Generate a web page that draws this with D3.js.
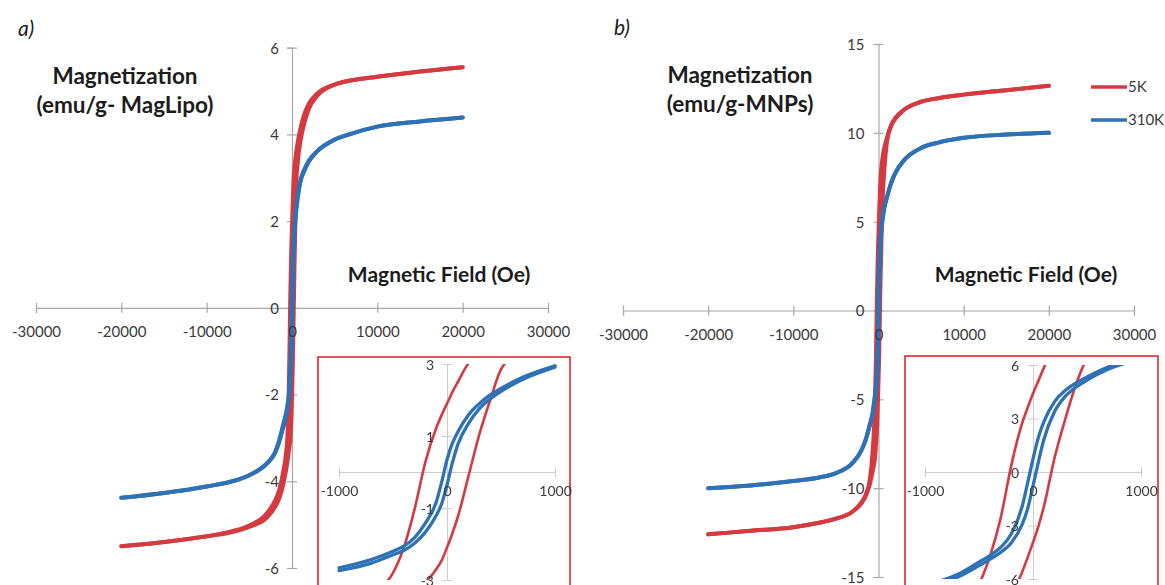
<!DOCTYPE html>
<html><head><meta charset="utf-8">
<script src="https://cdn.jsdelivr.net/npm/d3@7"></script>
<style>
body{margin:0;background:#fff}
svg{display:block}
text{font-family:Lato,"Open Sans",sans-serif}
</style>
</head><body>
<svg id="c" width="1165" height="585"></svg>
<script>
// ---------- DATA ----------
const seriesNames = ["5K", "310K"];
// applied field grid (Oe), common to every branch
const fieldOe = [-20000,-15000,-10000,-7000,-5000,-3000,-2000,-1500,-1000,-700,-500,-400,-300,-200,-100,-50,0,50,100,200,300,400,500,700,1000,1500,2000,3000,5000,7000,10000,15000,20000];

// a) MagLipo (emu/g)  — desc = field sweeping down, asc = field sweeping up
const magLipo5K_desc   = [-5.5,-5.4,-5.27,-5.15,-5.02,-4.75,-4.45,-4.2,-3.75,-3.35,-2.8,-2.1,-1.03,0.28,1.22,1.58,1.9,2.22,2.5,3.02,3.25,3.45,3.6,3.85,4.15,4.5,4.72,4.95,5.15,5.25,5.33,5.45,5.55];
const magLipo5K_asc    = [-5.5,-5.4,-5.27,-5.17,-5.05,-4.85,-4.6,-4.4,-4.05,-3.75,-3.5,-3.35,-3.2,-3.05,-2.7,-2.46,-2.1,-1.7,-1.25,-0.1,1.05,2.0,2.85,3.4,3.85,4.3,4.6,4.9,5.15,5.25,5.33,5.45,5.55];
const magLipo310K_desc = [-4.38,-4.27,-4.12,-4.0,-3.86,-3.6,-3.33,-3.05,-2.66,-2.43,-2.2,-2.06,-1.82,-1.42,-0.84,-0.29,0.34,0.8,1.11,1.59,1.9,2.14,2.32,2.63,2.95,3.22,3.4,3.62,3.88,4.02,4.18,4.3,4.39];
const magLipo310K_asc  = [-4.38,-4.27,-4.12,-4.0,-3.86,-3.6,-3.36,-3.1,-2.74,-2.53,-2.3,-2.18,-1.98,-1.67,-1.21,-0.89,-0.36,0.26,0.76,1.35,1.76,2.03,2.24,2.57,2.91,3.18,3.38,3.62,3.88,4.02,4.18,4.3,4.39];

// b) MNPs (emu/g)
const mnp5K_desc   = [-12.6,-12.4,-12.2,-11.95,-11.72,-11.3,-10.8,-10.35,-9.45,-8.0,-6.3,-4.76,-2.6,0.4,2.75,3.6,4.4,5.11,5.84,7.0,7.8,8.3,8.7,9.2,9.75,10.45,10.85,11.3,11.75,11.95,12.15,12.4,12.65];
const mnp5K_asc    = [-12.6,-12.4,-12.2,-11.95,-11.72,-11.3,-10.85,-10.45,-9.75,-9.1,-8.6,-8.25,-7.6,-6.9,-5.6,-4.8,-3.95,-3.05,-1.95,0.8,3.0,4.95,6.4,8.0,9.5,10.4,10.8,11.3,11.75,11.95,12.15,12.4,12.65];
const mnp310K_desc = [-10.0,-9.85,-9.6,-9.4,-9.15,-8.55,-7.85,-7.25,-6.35,-5.75,-5.05,-4.69,-4.23,-3.46,-1.93,-0.62,0.73,1.94,2.81,3.95,4.58,5.0,5.33,5.9,6.42,7.22,7.77,8.47,9.15,9.45,9.72,9.9,10.0];
const mnp310K_asc  = [-10.0,-9.85,-9.6,-9.4,-9.15,-8.57,-7.87,-7.28,-6.45,-5.9,-5.25,-4.9,-4.51,-3.97,-2.94,-2.07,-0.78,0.57,1.81,3.39,4.25,4.77,5.15,5.77,6.35,7.18,7.75,8.45,9.15,9.45,9.72,9.9,10.0];

// tick labels
const mainXTicks = [-30000,-20000,-10000,0,10000,20000,30000];
const aYTicks = [-6,-4,-2,0,2,4,6];
const bYTicks = [-15,-10,-5,0,5,10,15];
const insetXTicks = [-1000,0,1000];
const insetAYTicks = [-3,-1,1,3];
const insetBYTicks = [-6,-3,0,3,6];

// ---------- DRAWING ----------
const svg = d3.select("#c");
const RED = "#d43a40", BLUE = "#2e72b5", AXIS = "#a8a8a8", TICKTXT = "#3a3a3a", TITLE = "#1c1c1c";
const fmt = d => String(d);
const colors = [RED, BLUE];

function toPts(arr){ return fieldOe.map((h,i)=>({h:h, m:arr[i]})); }

function drawAxes(g, x, y, xt, yt, opts, labelsOnly){
  const xa = d3.axisBottom(x).tickValues(xt).tickFormat(fmt).tickSizeOuter(0).tickSize(labelsOnly?0:opts.tick);
  const ya = d3.axisLeft(y).tickValues(yt).tickFormat(fmt).tickSizeOuter(0).tickSize(labelsOnly?0:opts.tick);
  const gx = g.append("g").attr("transform", `translate(0,${y(0)})`).call(xa);
  const gy = g.append("g").attr("transform", `translate(${x(0)},0)`).call(ya);
  [gx, gy].forEach(a => {
    a.select(".domain").attr("stroke", AXIS).attr("stroke-width", opts.axisW);
    a.selectAll(".tick line").attr("stroke", AXIS).attr("stroke-width", opts.axisW);
    a.selectAll(".tick text").attr("fill", TICKTXT).style("font-size", opts.font + "px");
  });
  gx.selectAll(".tick line").attr("y1", -opts.tick).attr("y2", opts.tick);
  gy.selectAll(".tick line").attr("x1", opts.tick).attr("x2", -opts.tick);
  gx.selectAll(".tick text").attr("y", opts.xLabY).attr("dy", 0);
  gy.selectAll(".tick text").attr("x", opts.yLabX).attr("dy", "0.36em");
  if (labelsOnly){ gx.select(".domain").remove(); gy.select(".domain").remove(); gx.selectAll(".tick line").remove(); gy.selectAll(".tick line").remove(); }
  else { gx.selectAll(".tick text").remove(); gy.selectAll(".tick text").remove(); }
}

function drawPanel(cfg){
  const g = svg.append("g");
  const x = d3.scaleLinear().domain([-30000, 30000]).range(cfg.xr);
  const y = d3.scaleLinear().domain(cfg.yd).range(cfg.yr);
  const axOpts = {tick:5, axisW:1.2, font:15, xLabY:29, yLabX:cfg.yLabX};
  drawAxes(g, x, y, mainXTicks, cfg.yTicks, axOpts, false);
  const line = d3.line().x(d=>x(d.h)).y(d=>y(d.m)).curve(d3.curveMonotoneX);
  cfg.series.forEach((s, i) => {
    [s.desc, s.asc].forEach(arr => {
      g.append("path").datum(toPts(arr)).attr("d", line)
        .attr("fill","none").attr("stroke", colors[i]).attr("stroke-width", 4)
        .attr("stroke-linecap","round").attr("stroke-linejoin","round");
    });
  });
  drawAxes(g, x, y, mainXTicks, cfg.yTicks, axOpts, true);

  // inset
  const ig = svg.append("g");
  const b = cfg.inset.box;
  ig.append("rect").attr("x", b[0]).attr("y", b[1]).attr("width", b[2]-b[0]).attr("height", b[3]-b[1])
    .attr("fill","#fff").attr("stroke","#e1262c").attr("stroke-width",1.6);
  const ix = d3.scaleLinear().domain([-1000,1000]).range(cfg.inset.xr);
  const iy = d3.scaleLinear().domain(cfg.inset.yd).range(cfg.inset.yr);
  const iOpts = {tick:5, axisW:1, font:14, xLabY:24, yLabX:cfg.inset.yLabX};
  const ax2 = ig.append("g").attr("opacity",0.85);
  drawAxes(ax2, ix, iy, insetXTicks, cfg.inset.yTicks, iOpts, false);
  ax2.selectAll("path,line").attr("stroke","#c4c4c4");
  const cid = "clip" + cfg.id;
  ig.append("clipPath").attr("id", cid).append("rect")
    .attr("x", ix(-1000)-4).attr("y", iy(cfg.inset.yd[1]))
    .attr("width", ix(1000)-ix(-1000)+8).attr("height", iy(cfg.inset.yd[0])-iy(cfg.inset.yd[1]));
  const cg = ig.append("g").attr("clip-path", `url(#${cid})`);
  const iline = d3.line().x(d=>ix(d.h)).y(d=>iy(d.m)).curve(d3.curveMonotoneX);
  cfg.series.forEach((s, i) => {
    [s.desc, s.asc].forEach(arr => {
      cg.append("path").datum(toPts(arr).filter(p => p.h >= -1000 && p.h <= 1000)).attr("d", iline)
        .attr("fill","none").attr("stroke", colors[i]).attr("stroke-width", i===0?2.6:3.3)
        .attr("stroke-linecap","round");
    });
  });
  drawAxes(ig, ix, iy, insetXTicks, cfg.inset.yTicks, iOpts, true);

  // titles
  svg.append("text").attr("x", cfg.tag[0]).attr("y", cfg.tag[1]).text(cfg.tag[2])
    .style("font-size","21px").style("font-style","italic").attr("fill", TITLE);
  svg.append("text").attr("x", cfg.ylab[0]).attr("y", cfg.ylab[1]).attr("text-anchor","middle")
    .style("font-size","22.5px").style("font-weight","bold").attr("fill", TITLE).text("Magnetization");
  svg.append("text").attr("x", cfg.ylab[0]).attr("y", cfg.ylab[1]+29).attr("text-anchor","middle")
    .style("font-size","22.5px").style("font-weight","bold").attr("fill", TITLE).text(cfg.ylab[2]);
  svg.append("text").attr("x", cfg.xlab[0]).attr("y", cfg.xlab[1]).attr("text-anchor","middle")
    .style("font-size","21px").style("font-weight","bold").attr("fill", TITLE).text("Magnetic Field (Oe)");
  return {x, y};
}

drawPanel({
  id:"a", xr:[36, 548], yd:[-6, 6], yr:[568, 47.7], yTicks:aYTicks, yLabX:-13,
  series:[{desc:magLipo5K_desc, asc:magLipo5K_asc},{desc:magLipo310K_desc, asc:magLipo310K_asc}],
  inset:{box:[318, 357, 570, 620], xr:[339, 555], yd:[-3, 3], yr:[580, 364], yTicks:insetAYTicks, yLabX:-13},
  tag:[18, 36, "a)"], ylab:[125, 84, "(emu/g- MagLipo)"], xlab:[439, 282]
});
drawPanel({
  id:"b", xr:[623, 1134], yd:[-15, 15], yr:[577, 44], yTicks:bYTicks, yLabX:-14,
  series:[{desc:mnp5K_desc, asc:mnp5K_asc},{desc:mnp310K_desc, asc:mnp310K_asc}],
  inset:{box:[905, 356, 1158, 620], xr:[925, 1141], yd:[-6, 6], yr:[579, 365], yTicks:insetBYTicks, yLabX:-14},
  tag:[614, 35, "b)"], ylab:[740, 83, "(emu/g-MNPs)"], xlab:[1026, 282]
});

// legend
const lg = svg.append("g");
seriesNames.forEach((n, i) => {
  const yy = 87 + i*33;
  lg.append("line").attr("x1", 1091).attr("x2", 1127).attr("y1", yy).attr("y2", yy)
    .attr("stroke", colors[i]).attr("stroke-width", 3.5);
  lg.append("text").attr("x", 1128).attr("y", yy).attr("dy","0.36em")
    .style("font-size","15px").attr("fill","#3a3a3a").text(n);
});
</script>
</body></html>
